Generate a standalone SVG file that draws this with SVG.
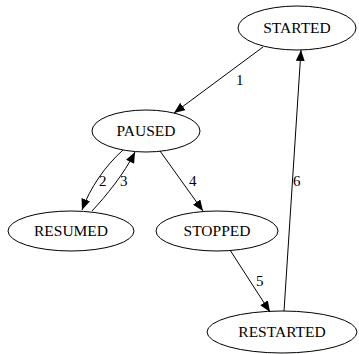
<svg xmlns="http://www.w3.org/2000/svg" width="359" height="354" viewBox="0 0 359 354">
  <style>
    .node ellipse { fill: none; stroke: #000; stroke-width: 1; }
    .node text { font-family: "Liberation Serif", "Times New Roman", serif; font-size: 15.5px; text-anchor: middle; fill: #000; }
    .label { font-family: "Liberation Serif", "Times New Roman", serif; font-size: 15px; fill: #000; }
    .edge { fill: none; stroke: #000; stroke-width: 1; marker-end: url(#arrow); }
  </style>
  <defs>
    <marker id="arrow" markerWidth="11" markerHeight="9" refX="11" refY="4.5" orient="auto" markerUnits="userSpaceOnUse">
      <path d="M0,0 L11,4.5 L0,9 Z" fill="#000"/>
    </marker>
  </defs>
  <rect width="359" height="354" fill="#fff"/>

  <!-- transitions between states -->
  <g id="connectors">
    <path class="edge" d="M263,47 L174,113"/>
    <path class="edge" d="M123,150 C105,166 90,188 82,210"/>
    <path class="edge" d="M92,211 C106,196 124,174 135,152"/>
    <path class="edge" d="M160,151 L203,211"/>
    <path class="edge" d="M230,250 L270,312"/>
    <path class="edge" d="M284,311 L301,50"/>
    <text class="label" x="236" y="85">1</text>
    <text class="label" x="99" y="186">2</text>
    <text class="label" x="120" y="186">3</text>
    <text class="label" x="189" y="186">4</text>
    <text class="label" x="256" y="286">5</text>
    <text class="label" x="293" y="186">6</text>
  </g>

  <g id="STARTED" class="node">
    <ellipse cx="297" cy="28" rx="59" ry="22"/>
    <text x="297" y="33">STARTED</text>
  </g>
  <g id="PAUSED" class="node">
    <ellipse cx="146" cy="131" rx="54" ry="21"/>
    <text x="146" y="136">PAUSED</text>
  </g>
  <g id="RESUMED" class="node">
    <ellipse cx="71" cy="231" rx="63" ry="20"/>
    <text x="71" y="236">RESUMED</text>
  </g>
  <g id="STOPPED" class="node">
    <ellipse cx="217" cy="231" rx="61" ry="20"/>
    <text x="217" y="236">STOPPED</text>
  </g>
  <g id="RESTARTED" class="node">
    <ellipse cx="282" cy="332" rx="75" ry="21"/>
    <text x="282" y="337">RESTARTED</text>
  </g>
</svg>
